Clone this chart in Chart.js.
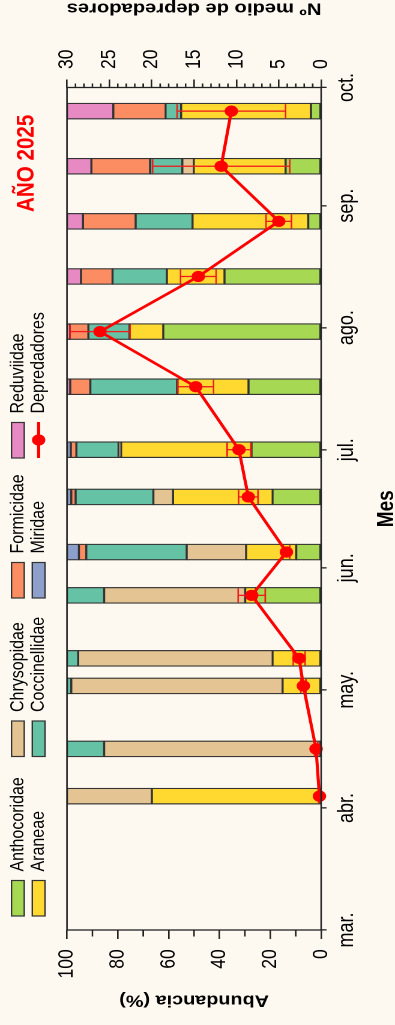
<!DOCTYPE html>
<html lang="es">
<head>
<meta charset="utf-8">
<title>Depredadores 2025</title>
<script src="https://cdn.jsdelivr.net/npm/chart.js@4.4.1/dist/chart.umd.min.js"></script>
<style>
  html, body { margin: 0; padding: 0; background: #fdf9f0; }
  body { width: 395px; height: 1025px; overflow: hidden; position: relative; }
  /* the chart is laid out landscape and turned a quarter turn, stretched across */
  #wrap { position: absolute; left: 0; top: 0; width: 1025px; height: 329px;
          transform-origin: 0 0; transform: matrix(0, -1, 1.2006, 0, 0, 1025); }
  canvas { display: block; }
</style>
</head>
<body>
<div id="wrap"><canvas id="chart" width="1025" height="329"></canvas></div>
<script>
// Sampling dates
const fechas = ['2025-04-04', '2025-04-16', '2025-05-02', '2025-05-09', '2025-05-25', '2025-06-05', '2025-06-19',
                '2025-07-01', '2025-07-17', '2025-07-31', '2025-08-14', '2025-08-28', '2025-09-11', '2025-09-25'];

// Month axis
const inicioMes = ['2025-03-01', '2025-04-01', '2025-05-01', '2025-06-01', '2025-07-01', '2025-08-01', '2025-09-01', '2025-10-01'];
const meses = ['mar.', 'abr.', 'may.', 'jun.', 'jul.', 'ago.', 'sep.', 'oct.'];

// Relative abundance (%) of each predator family per date
const anthocoridae  = [0, 0, 0, 0, 25.7, 9.8, 19.1, 27.4, 28.6, 62.1, 38.0, 5.1, 14.0, 4.0];
const araneae       = [66.6, 0, 15.2, 19.1, 4.2, 19.7, 39.2, 51.3, 28.1, 13.3, 22.7, 45.5, 36.1, 51.1];
const chrysopidae   = [33.4, 85.4, 83.1, 76.5, 55.5, 23.4, 7.7, 1.0, 0, 0, 0, 0, 4.5, 0];
const coccinellidae = [0, 14.6, 1.7, 4.4, 14.6, 39.5, 30.6, 16.6, 34.1, 16.2, 21.4, 22.4, 12.7, 6.1];
const formicidae    = [0, 0, 0, 0, 0, 2.9, 1.7, 2.2, 7.9, 7.3, 12.4, 20.7, 23.1, 20.6];
const miridae       = [0, 0, 0, 0, 0, 4.7, 1.7, 1.5, 0, 0, 0, 0, 0, 0];
const reduviidae    = [0, 0, 0, 0, 0, 0, 0, 0, 1.3, 1.1, 5.5, 6.3, 9.6, 18.2];

// Mean number of predators and its error
const depredadores      = [0.2, 0.6, 2.1, 2.6, 8.2, 4.1, 8.6, 9.7, 14.8, 26.1, 14.5, 5.0, 11.8, 10.6];
const errorDepredadores = [0.1, 0.2, 0.3, 0.7, 1.6, 0.4, 1.15, 1.4, 2.1, 3.55, 2.1, 1.5, 8.1, 6.4];

const tituloAbundancia = 'Abundancia (%)';
const tituloDepredadores = 'Nº medio de depredadores';
const tituloMes = 'Mes';
const rotuloAnio = 'AÑO 2025';

const FAM = "'Liberation Sans', Arial, Helvetica, sans-serif";
const TINTA = '#222';

const DIA = 86400000;
const origen = Date.UTC(2025, 2, 1);
const dia = s => { const [a, m, d] = s.split('-').map(Number); return (Date.UTC(a, m - 1, d) - origen) / DIA; };
const diasMes = inicioMes.map(dia);
const diasMuestreo = fechas.map(dia);

const serie = vals => vals.map((v, i) => ({ x: diasMuestreo[i], y: v > 0 ? v : null }));

const familias = [
  ['Anthocoridae', anthocoridae, '#a6d854'],
  ['Araneae', araneae, '#ffd92f'],
  ['Chrysopidae', chrysopidae, '#e5c494'],
  ['Coccinellidae', coccinellidae, '#66c2a5'],
  ['Formicidae', formicidae, '#fc8d62'],
  ['Miridae', miridae, '#8da0cb'],
  ['Reduviidae', reduviidae, '#e78ac3']
];

const datasets = familias.map(([nombre, vals, color]) => ({
  type: 'bar', label: nombre, data: serie(vals), yAxisID: 'y',
  backgroundColor: color, borderColor: '#333', borderWidth: 1.2, borderSkipped: false,
  barThickness: 16, order: 1
}));
datasets.push({
  type: 'line', label: 'Depredadores', yAxisID: 'y2',
  data: depredadores.map((v, i) => ({ x: diasMuestreo[i], y: v })),
  errores: errorDepredadores,
  borderColor: '#ff0000', backgroundColor: '#ff0000', borderWidth: 2.6,
  pointRadius: 5.6, pointBorderWidth: 0, pointBackgroundColor: '#ff0000',
  tension: 0, clip: false, order: 0
});

// error bars drawn under the mean line
const barrasError = {
  id: 'barrasError',
  beforeDatasetDraw(chart, args) {
    const ds = chart.data.datasets[args.index];
    if (!ds.errores) return;
    const esc = chart.scales.y2, ctx = chart.ctx;
    ctx.save();
    ctx.strokeStyle = '#ee1c1c'; ctx.lineWidth = 1.3;
    ctx.beginPath();
    args.meta.data.forEach((pt, i) => {
      const v = ds.data[i].y, e = ds.errores[i];
      const a = esc.getPixelForValue(v + e), b = esc.getPixelForValue(v - e);
      ctx.moveTo(pt.x, a); ctx.lineTo(pt.x, b);
      ctx.moveTo(pt.x - 7, a); ctx.lineTo(pt.x + 7, a);
      ctx.moveTo(pt.x - 7, b); ctx.lineTo(pt.x + 7, b);
    });
    ctx.stroke();
    ctx.restore();
  }
};

// plot frame
const marco = {
  id: 'marco',
  afterDatasetsDraw(chart) {
    const { ctx, chartArea: a } = chart;
    ctx.save();
    ctx.strokeStyle = TINTA; ctx.lineWidth = 1.3;
    ctx.strokeRect(a.left, a.top, a.right - a.left, a.bottom - a.top);
    ctx.restore();
  }
};

// short unlabelled ticks between the labelled ones
const marcasMenores = {
  id: 'marcasMenores',
  afterDraw(chart) {
    const { ctx, scales: { y, y2 } } = chart;
    ctx.save();
    ctx.strokeStyle = TINTA; ctx.lineWidth = 1.3;
    ctx.beginPath();
    for (let v = 10; v < 100; v += 20) {
      const p = y.getPixelForValue(v);
      ctx.moveTo(y.right, p); ctx.lineTo(y.right - 6.5, p);
    }
    for (let v = 1; v < 30; v++) {
      if (v % 5 === 0) continue;
      const p = y2.getPixelForValue(v);
      ctx.moveTo(y2.left, p); ctx.lineTo(y2.left + 4, p);
    }
    ctx.stroke();
    ctx.restore();
  }
};

// right-axis title, year label and the two-row legend
const rotulos = {
  id: 'rotulos',
  afterDraw(chart) {
    const { ctx, chartArea: a } = chart;

    ctx.save();
    ctx.font = 'bold 16.8px ' + FAM;
    ctx.fillStyle = '#000';
    ctx.translate(chart.width - 3.4, (a.top + a.bottom) / 2);
    ctx.rotate(-Math.PI / 2);
    ctx.textAlign = 'center'; ctx.textBaseline = 'alphabetic';
    ctx.fillText(tituloDepredadores, 0, 0);
    ctx.restore();

    ctx.save();
    ctx.font = 'bold 20.6px ' + FAM;
    ctx.fillStyle = '#ff0000';
    ctx.textAlign = 'left'; ctx.textBaseline = 'alphabetic';
    ctx.fillText(rotuloAnio, 813, 28);
    ctx.restore();

    const colX = [109, 268.5, 427, 567];
    const filaY = [14.9, 32.2];
    ctx.save();
    ctx.font = '16px ' + FAM;
    ctx.textAlign = 'left'; ctx.textBaseline = 'middle';
    chart.data.datasets.forEach((ds, i) => {
      const x = colX[Math.floor(i / 2)], yc = filaY[i % 2];
      if (ds.type === 'line') {
        ctx.strokeStyle = ds.borderColor; ctx.lineWidth = 2.6;
        ctx.beginPath(); ctx.moveTo(x, yc); ctx.lineTo(x + 36, yc); ctx.stroke();
        ctx.fillStyle = ds.borderColor;
        ctx.beginPath(); ctx.arc(x + 18, yc, 5.6, 0, Math.PI * 2); ctx.fill();
      } else {
        ctx.fillStyle = ds.backgroundColor;
        ctx.fillRect(x, yc - 5.3, 35.5, 10.6);
        ctx.strokeStyle = '#333'; ctx.lineWidth = 1.2;
        ctx.strokeRect(x, yc - 5.3, 35.5, 10.6);
      }
      ctx.fillStyle = '#000';
      ctx.fillText(ds.label, x + 44.5, yc);
    });
    ctx.restore();
  }
};

Chart.defaults.font.family = FAM;
Chart.defaults.color = '#000';

new Chart(document.getElementById('chart'), {
  type: 'bar',
  data: { datasets },
  options: {
    responsive: false,
    animation: false,
    devicePixelRatio: 2,
    events: [],
    layout: { padding: { top: 55.8, left: 0, right: 0, bottom: 0 } },
    plugins: { legend: { display: false }, tooltip: { enabled: false } },
    scales: {
      x: {
        type: 'linear', min: diasMes[0], max: diasMes[diasMes.length - 1],
        stacked: true, offset: false,
        afterBuildTicks: s => { s.ticks = diasMes.map(v => ({ value: v })); },
        afterFit: s => { s.height = 61.5; },
        ticks: {
          autoSkip: false, maxRotation: 0, minRotation: 0, padding: 6,
          font: { size: 18 }, color: '#000',
          callback: v => meses[diasMes.indexOf(v)]
        },
        grid: { drawOnChartArea: false, offset: false, tickLength: 4.5, color: TINTA, lineWidth: 1.3 },
        border: { display: false },
        title: { display: true, text: tituloMes, font: { size: 19, weight: 'bold', lineHeight: 1 }, color: '#000', padding: { top: 0, bottom: -3 } }
      },
      y: {
        type: 'linear', position: 'left', stacked: true, min: 0, max: 100,
        afterFit: s => { s.width = 95; },
        ticks: { stepSize: 20, padding: 10.3, font: { size: 17.5 }, color: '#000' },
        grid: { drawOnChartArea: false, tickLength: 9, color: TINTA, lineWidth: 1.3 },
        border: { display: false },
        title: { display: true, text: tituloAbundancia, font: { size: 16.5, weight: 'bold' }, color: '#000', padding: { top: 15, bottom: 0 } }
      },
      y2: {
        type: 'linear', position: 'right', min: 0, max: 30,
        afterFit: s => { s.width = 87.5; },
        ticks: { stepSize: 5, padding: 10.5, font: { size: 17.5 }, color: '#000' },
        grid: { drawOnChartArea: false, tickLength: 8, color: TINTA, lineWidth: 1.3 },
        border: { display: false }
      }
    }
  },
  plugins: [barrasError, marco, marcasMenores, rotulos]
});
</script>
</body>
</html>
